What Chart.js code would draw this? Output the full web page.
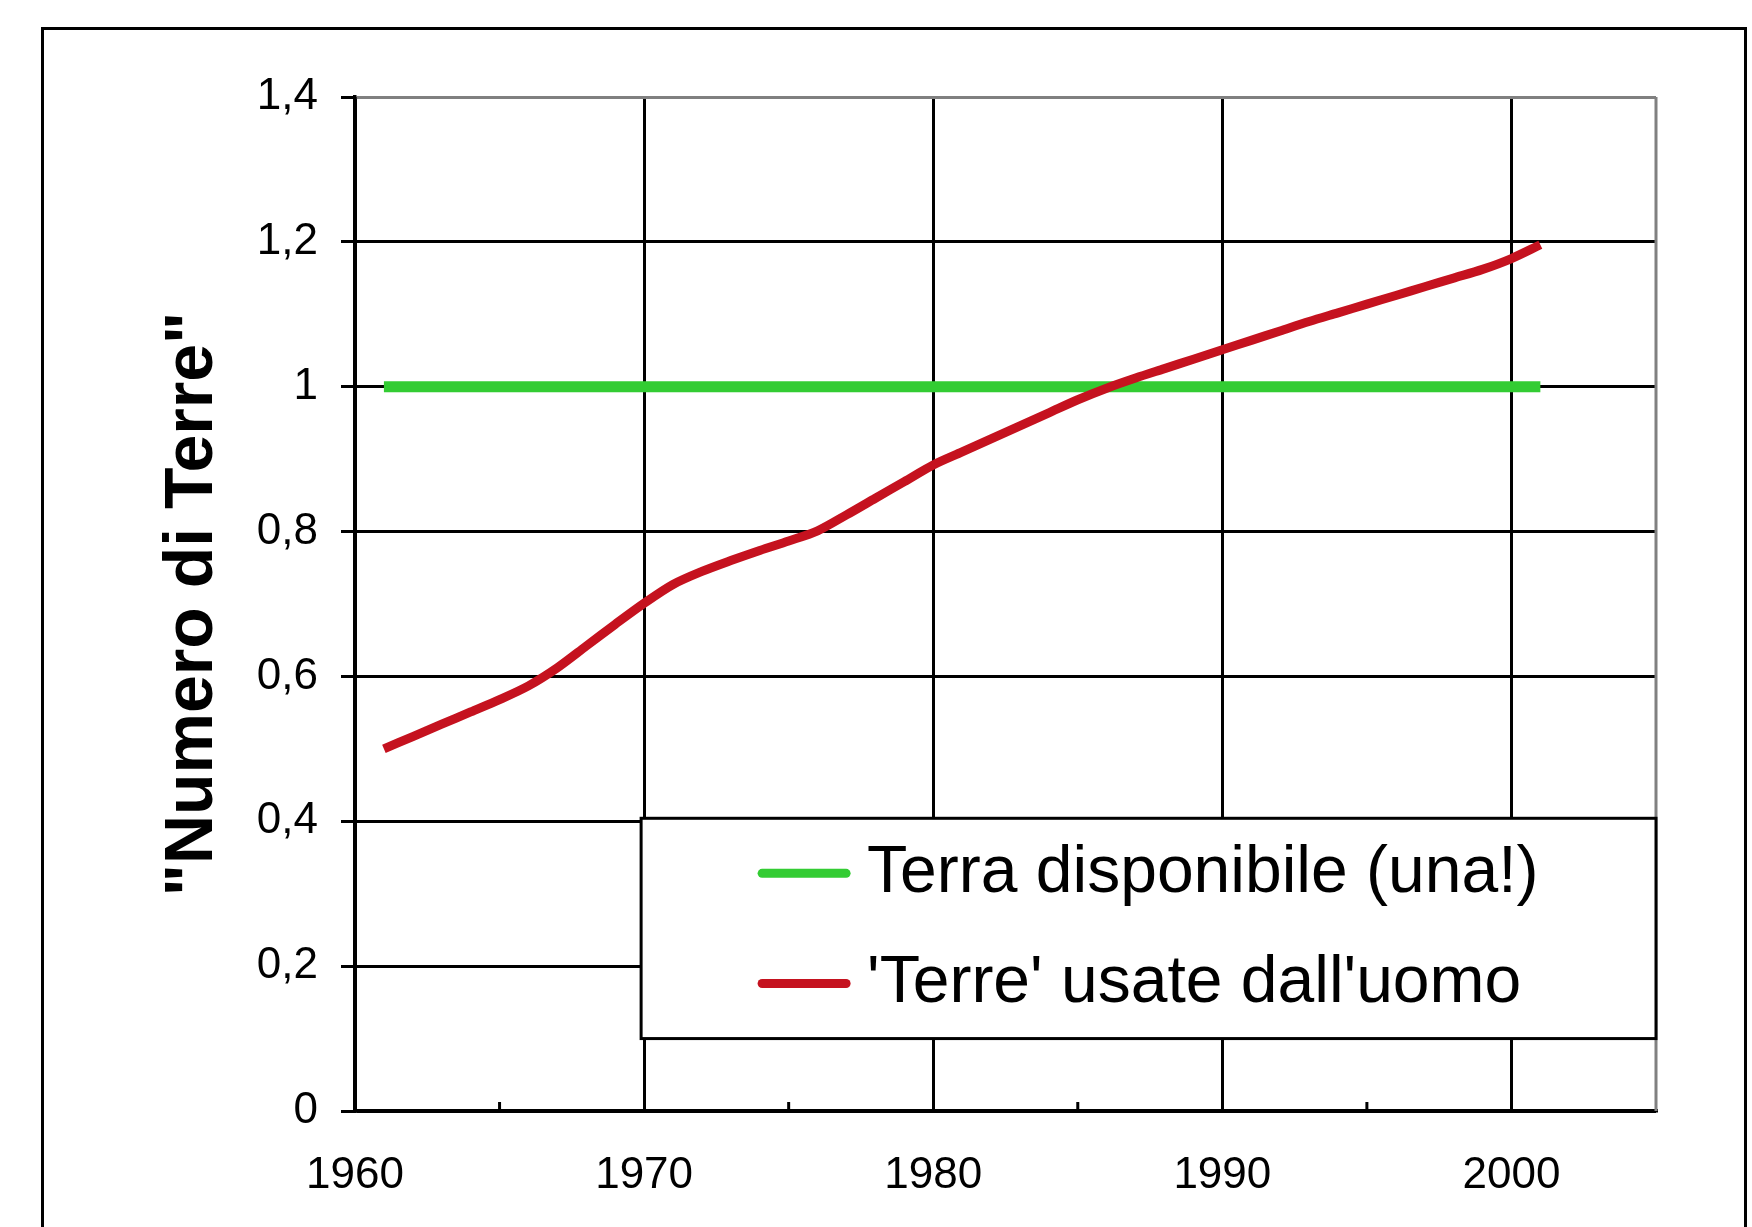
<!DOCTYPE html>
<html>
<head>
<meta charset="utf-8">
<title>Numero di Terre</title>
<script src="https://cdn.jsdelivr.net/npm/chart.js@4.4.1/dist/chart.umd.min.js"></script>
<style>
  html, body { margin: 0; padding: 0; background: #fff; overflow: hidden; }
  #wrap { position: relative; width: 1752px; height: 1227px; }
  #frame { position: absolute; left: 41px; top: 27px; width: 1706px; height: 1300px;
           border: 3px solid #000; box-sizing: border-box; }
  #chart { position: absolute; left: 0; top: 0; }
</style>
</head>
<body>
<div id="wrap">
  <div id="frame"></div>
  <canvas id="chart" width="1752" height="1227"></canvas>
</div>
<script>
// values
var years = [1961, 1962, 1963, 1964, 1965, 1966, 1967, 1968, 1969, 1970,
             1971, 1972, 1973, 1974, 1975, 1976, 1977, 1978, 1979, 1980,
             1981, 1982, 1983, 1984, 1985, 1986, 1987, 1988, 1989, 1990,
             1991, 1992, 1993, 1994, 1995, 1996, 1997, 1998, 1999, 2000, 2001]
var usedEarths = [0.500, 0.517, 0.534, 0.551, 0.568, 0.587, 0.612, 0.642, 0.672, 0.701,
                  0.727, 0.745, 0.760, 0.774, 0.787, 0.801, 0.823, 0.846, 0.869, 0.892,
                  0.910, 0.928, 0.946, 0.964, 0.982, 0.998, 1.012, 1.025, 1.038, 1.051,
                  1.064, 1.077, 1.090, 1.102, 1.114, 1.126, 1.138, 1.150, 1.162, 1.177, 1.196]
var availableYears = [1961, 2001]
var availableEarths = [1, 1]

var seriesLabels = ['Terra disponibile (una!)', "'Terre' usate dall'uomo"]
var yAxisTitle = '"Numero di Terre"'
var xTickYears = [1960, 1970, 1980, 1990, 2000]
var xMinorYears = [1965, 1975, 1985, 1995]
var yTickValues = [0, 0.2, 0.4, 0.6, 0.8, 1, 1.2, 1.4]
var yTickLabels = ['0', '0,2', '0,4', '0,6', '0,8', '1', '1,2', '1,4']

var fontFamily = "'Liberation Sans', Arial, sans-serif"
var tickFont = { family: fontFamily, size: 44 }

function toPoints(xs, ys) {
  return xs.map(function (x, i) { return { x: x, y: ys[i] } })
}

// grey plot border on the right, small ticks at the half decades
var plotExtras = {
  id: 'plotExtras',
  beforeDatasetsDraw: function (chart) {
    var ctx = chart.ctx, a = chart.chartArea
    ctx.save()
    ctx.strokeStyle = '#808080'
    ctx.lineWidth = 3
    ctx.beginPath()
    ctx.moveTo(a.right, a.top)
    ctx.lineTo(a.right, a.bottom)
    ctx.stroke()
    ctx.strokeStyle = '#000'
    ctx.lineWidth = 3
    xMinorYears.forEach(function (yr) {
      var px = chart.scales.x.getPixelForValue(yr)
      ctx.beginPath()
      ctx.moveTo(px, a.bottom)
      ctx.lineTo(px, a.bottom - 9)
      ctx.stroke()
    })
    ctx.restore()
  }
}

// boxed legend sitting inside the plot
var legendBox = {
  id: 'legendBox',
  afterDatasetsDraw: function (chart) {
    var ctx = chart.ctx, x = chart.scales.x, y = chart.scales.y
    var left = x.getPixelForValue(1970) - 3
    var right = chart.chartArea.right
    var top = y.getPixelForValue(0.4) - 3
    var bottom = y.getPixelForValue(0.1)
    var rowH = (bottom - top) / 2
    ctx.save()
    ctx.fillStyle = '#fff'
    ctx.fillRect(left, top, right - left, bottom - top)
    ctx.strokeStyle = '#000'
    ctx.lineWidth = 3
    ctx.strokeRect(left, top, right - left, bottom - top)
    chart.data.datasets.forEach(function (ds, i) {
      var cy = top + rowH * (i + 0.5)
      ctx.strokeStyle = ds.borderColor
      ctx.lineWidth = 9
      ctx.lineCap = 'round'
      ctx.beginPath()
      ctx.moveTo(left + 121, cy)
      ctx.lineTo(left + 205, cy)
      ctx.stroke()
      ctx.fillStyle = '#000'
      ctx.font = '66px ' + fontFamily
      ctx.textBaseline = 'middle'
      ctx.fillText(ds.label, left + 226, cy)
    })
    ctx.restore()
  }
}

var ctx = document.getElementById('chart').getContext('2d')
var chart = new Chart(ctx, {
  type: 'line',
  data: {
    datasets: [{
      label: seriesLabels[0],
      data: toPoints(availableYears, availableEarths),
      borderColor: '#33cc33',
      borderWidth: 11,
      pointRadius: 0,
      order: 1
    }, {
      label: seriesLabels[1],
      data: toPoints(years, usedEarths),
      borderColor: '#c5121f',
      borderWidth: 9,
      pointRadius: 0,
      tension: 0.3,
      order: 0
    }]
  },
  options: {
    animation: false,
    responsive: false,
    layout: { padding: { left: 0, top: 97, right: 96, bottom: 0 } },
    plugins: {
      legend: { display: false },
      tooltip: { enabled: false }
    },
    scales: {
      x: {
        type: 'linear',
        min: 1960,
        max: 2005,
        afterBuildTicks: function (s) { s.ticks = xTickYears.map(function (v) { return { value: v } }) },
        afterFit: function (s) { s.height = 116 },
        grid: { color: '#000', lineWidth: 3, drawTicks: false },
        border: { color: '#000', width: 3.5 },
        ticks: {
          color: '#000', font: tickFont, padding: 38, maxRotation: 0, autoSkip: false,
          callback: function (v) { return String(v) }
        }
      },
      y: {
        min: 0,
        max: 1.4,
        afterBuildTicks: function (s) { s.ticks = yTickValues.map(function (v) { return { value: v } }) },
        afterFit: function (s) { s.width = 355 },
        grid: {
          color: function (c) { return c.tick && c.tick.value === 1.4 ? '#808080' : '#000' },
          tickColor: '#000',
          lineWidth: 3,
          tickLength: 14
        },
        border: { color: '#000', width: 3.5 },
        ticks: {
          color: '#000', font: tickFont, padding: 23,
          callback: function (v, i) { return yTickLabels[i] }
        },
        title: {
          display: true,
          text: yAxisTitle,
          color: '#000',
          font: { family: fontFamily, size: 68, weight: 'bold' },
          padding: { top: 152, bottom: 0 }
        }
      }
    }
  },
  plugins: [plotExtras, legendBox]
})
</script>
</body>
</html>
